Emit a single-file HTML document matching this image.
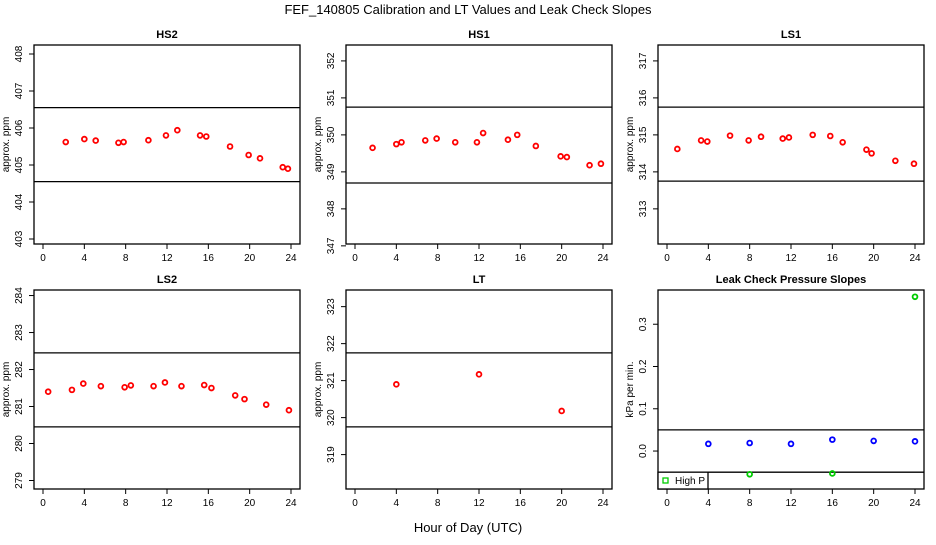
<!DOCTYPE html>
<html><head><meta charset="utf-8"><style>
body{margin:0;background:#fff;width:936px;height:540px;overflow:hidden}
svg{font-family:"Liberation Sans",sans-serif}
</style></head><body>
<svg id="c" width="936" height="540" xmlns="http://www.w3.org/2000/svg">
<text x="468" y="14" text-anchor="middle" font-size="13">FEF_140805  Calibration and LT Values and Leak Check Slopes</text>
<text x="468" y="532" text-anchor="middle" font-size="13">Hour of Day (UTC)</text>
</svg>
<script>
const hs2X=[2.2,4,5.1,7.3,7.8,10.2,11.9,13,15.2,15.8,18.1,19.9,21,23.2,23.7];
const hs2Y=[405.62,405.7,405.66,405.6,405.62,405.67,405.8,405.94,405.8,405.77,405.5,405.27,405.18,404.94,404.9];
const hs1X=[1.7,4,4.5,6.8,7.9,9.7,11.8,12.4,14.8,15.7,17.5,19.9,20.5,22.7,23.8];
const hs1Y=[349.65,349.75,349.8,349.85,349.9,349.8,349.8,350.05,349.87,350,349.7,349.42,349.4,349.18,349.22];
const ls1X=[1,3.3,3.9,6.1,7.9,9.1,11.2,11.8,14.1,15.8,17,19.3,19.8,22.1,23.9];
const ls1Y=[314.62,314.85,314.82,314.98,314.85,314.95,314.9,314.93,315,314.97,314.8,314.6,314.5,314.3,314.22];
const ls2X=[0.5,2.8,3.9,5.6,7.9,8.5,10.7,11.8,13.4,15.6,16.3,18.6,19.5,21.6,23.8];
const ls2Y=[281.4,281.45,281.62,281.55,281.52,281.57,281.55,281.65,281.55,281.58,281.5,281.3,281.2,281.05,280.9];
const ltX=[4,12,20];
const ltY=[320.9,321.17,320.18];
const leakBlueX=[4,8,12,16,20,24];
const leakBlueY=[0.017,0.019,0.017,0.027,0.024,0.023];
const leakGreenX=[8,16,24];
const leakGreenY=[-0.055,-0.053,0.365];
const xTicks=[0,4,8,12,16,20,24];

const NS="http://www.w3.org/2000/svg";
const svg=document.getElementById('c');
function el(t,a,p){const e=document.createElementNS(NS,t);for(const k in a)e.setAttribute(k,a[k]);(p||svg).appendChild(e);return e;}

const panels=[
 {name:'hs2',title:'HS2',bx:34,by:45,x:hs2X,y:hs2Y,ymin:402.865,ymax:408.243,ticks:[403,404,405,406,407,408],lines:[406.55,404.55],lab:'approx. ppm'},
 {name:'hs1',title:'HS1',bx:346,by:45,x:hs1X,y:hs1Y,ymin:347.05,ymax:352.43,ticks:[347,348,349,350,351,352],lines:[350.75,348.7],lab:'approx. ppm'},
 {name:'ls1',title:'LS1',bx:658,by:45,x:ls1X,y:ls1Y,ymin:312.05,ymax:317.43,ticks:[313,314,315,316,317],lines:[315.75,313.75],lab:'approx. ppm'},
 {name:'ls2',title:'LS2',bx:34,by:290,x:ls2X,y:ls2Y,ymin:278.77,ymax:284.15,ticks:[279,280,281,282,283,284],lines:[282.45,280.45],lab:'approx. ppm'},
 {name:'lt',title:'LT',bx:346,by:290,x:ltX,y:ltY,ymin:318.07,ymax:323.45,ticks:[319,320,321,322,323],lines:[321.75,319.75],lab:'approx. ppm'},
 {name:'leak',title:'Leak Check Pressure Slopes',bx:658,by:290,x:leakBlueX,y:leakBlueY,x2:leakGreenX,y2:leakGreenY,ymin:-0.0898,ymax:0.381,ticks:[0,0.1,0.2,0.3],tickFmt:v=>v.toFixed(1),lines:[0.05,-0.05],lab:'kPa per min.',col:'#00f'}
];
const W=266,H=199;
panels.forEach(p=>{
 const g=el('g',{});
 
 
 const sx=v=>p.bx+9+v*(248/24);
 const sy=v=>p.by+H-(v-p.ymin)/(p.ymax-p.ymin)*H;
 const t=el('text',{x:p.bx+W/2,y:p.by-7,'text-anchor':'middle','font-size':11,'font-weight':'bold'},g);t.textContent=p.title;
 
 
 const r=el('rect',{x:p.bx,y:p.by,width:W,height:H,fill:'none',stroke:'#000','stroke-width':1.3},g);
 
 
 p.lines.forEach(v=>{const l=el('line',{x1:p.bx,x2:p.bx+W,y1:sy(v),y2:sy(v),stroke:'#000','stroke-width':1.3},g);
  
  });
 xTicks.forEach(v=>{el('line',{x1:sx(v),x2:sx(v),y1:p.by+H,y2:p.by+H+5,stroke:'#000'},g);
  const tx=el('text',{x:sx(v),y:p.by+H+17,'text-anchor':'middle','font-size':10},g);tx.textContent=v;
  
  });
 p.ticks.forEach(v=>{const y=sy(v);el('line',{x1:p.bx-5,x2:p.bx,y1:y,y2:y,stroke:'#000'},g);
  const ty=el('text',{x:0,y:0,'text-anchor':'middle','font-size':10,transform:`translate(${p.bx-12},${y}) rotate(-90)`},g);ty.textContent=p.tickFmt?p.tickFmt(v):v;
  
  });
 const yl=el('text',{x:0,y:0,'text-anchor':'middle','font-size':10,transform:`translate(${p.bx-25},${p.by+H/2}) rotate(-90)`},g);yl.textContent=p.lab;
 
 
 p.x.forEach((xv,i)=>{const c=el('circle',{cx:sx(xv),cy:sy(p.y[i]),r:2.4,fill:'none',stroke:p.col||'#f00','stroke-width':1.8},g);
  
  });
 if(p.x2){p.x2.forEach((xv,i)=>{const c=el('circle',{cx:sx(xv),cy:sy(p.y2[i]),r:2.4,fill:'none',stroke:'#0c0','stroke-width':1.8},g);
  
  });
  const lg=el('g',{},g);
  
  
  el('rect',{x:p.bx,y:sy(-0.05),width:50,height:p.by+H-sy(-0.05),fill:'#fff',stroke:'#000','stroke-width':1.3},lg);
  el('rect',{x:p.bx+5,y:p.by+H-11,width:5,height:5,fill:'none',stroke:'#0c0','stroke-width':1.3},lg);
  const lt=el('text',{x:p.bx+17,y:p.by+H-5,'font-size':10},lg);lt.textContent='High P';
 }
});
</script>
</body></html>
